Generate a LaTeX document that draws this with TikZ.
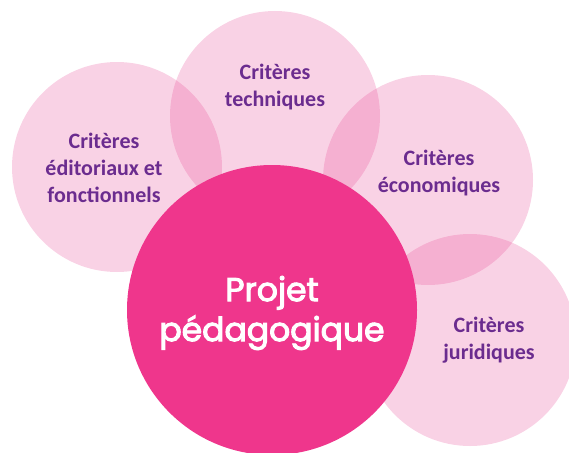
\documentclass[tikz,border=0pt]{standalone}
\usepackage{fontspec}
\setmainfont{Carlito}
\newfontfamily\projfont{Poppins}[FakeBold=3]
\definecolor{softpink}{RGB}{230,62,142}
\definecolor{strongpink}{RGB}{239,54,140}
\definecolor{critpurple}{RGB}{107,44,143}

\begin{document}
\begin{tikzpicture}[x=1pt,y=-1pt,
   crit/.style={align=center,text=critpurple,
     font=\fontsize{22}{26.7}\selectfont\bfseries},
   proj/.style={align=center,text=white,
     font=\fontsize{33}{40}\selectfont\projfont}]
   \useasboundingbox (0,0) rectangle (569,452);
   % outer criteria
   \fill[softpink,fill opacity=0.23] (117,167) circle(105pt);
   \fill[softpink,fill opacity=0.23] (275,116) circle(105pt);
   \fill[softpink,fill opacity=0.23] (428,180) circle(105pt);
   \fill[softpink,fill opacity=0.23] (470,340) circle(106pt);
   % centre
   \fill[strongpink] (272,310) circle(145pt);
   \node[crit] (edit) at (104,168) {Critères\\éditoriaux et\\fonctionnels};
   \node[crit] (tech) at (275,87) {Critères\\techniques};
   \node[crit] (eco) at (439,173) {Critères\\économiques};
   \node[crit] (jur) at (489,340) {Critères\\juridiques};
   \node[proj] (projet) at (272,313) {Projet\\pédagogique};
\end{tikzpicture}
\end{document}
